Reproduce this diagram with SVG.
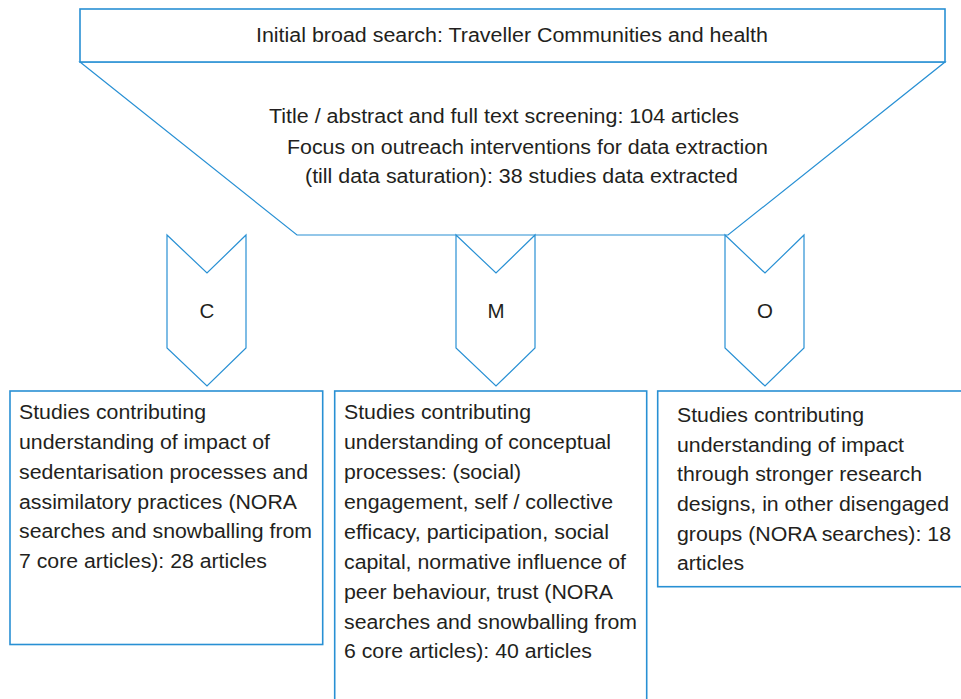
<svg xmlns="http://www.w3.org/2000/svg" width="961" height="699" viewBox="0 0 961 699">
<style>
.box{fill:#fff;stroke:#2890d4;stroke-width:1.6}
.thin{fill:#fff;stroke:#2890d4;stroke-width:1.2}
.t{font-family:"Liberation Sans",Arial,Helvetica,sans-serif;font-size:19.5px;fill:#231f20}
.l{font-family:"Liberation Sans",Arial,Helvetica,sans-serif;font-size:20.5px;fill:#231f20;text-anchor:middle}
</style>
<rect width="961" height="699" fill="#fff"/>
<g id="funnel">
<polygon class="thin" points="80,62 297,235 728,235 945,62"/>
<text class="t" x="269" y="123" textLength="470" lengthAdjust="spacingAndGlyphs">Title / abstract and full text screening: 104 articles</text>
<text class="t" x="287" y="154" textLength="481" lengthAdjust="spacingAndGlyphs">Focus on outreach interventions for data extraction</text>
<text class="t" x="305" y="183" textLength="433" lengthAdjust="spacingAndGlyphs">(till data saturation): 38 studies data extracted</text>
</g>
<g id="top">
<rect class="box" x="80" y="9" width="865" height="53"/>
<text class="t" x="256" y="42" textLength="512" lengthAdjust="spacingAndGlyphs">Initial broad search: Traveller Communities and health</text>
</g>
<g id="connectors">
<g id="chevC">
<polygon class="thin" points="167,235 207,273 246,235 246,348 207,386 167,348"/>
<text class="l" x="207" y="318">C</text>
</g>
<g id="chevM">
<polygon class="thin" points="456,235 496,273 535,235 535,348 496,386 456,348"/>
<text class="l" x="496" y="318">M</text>
</g>
<g id="chevO">
<polygon class="thin" points="725,235 765,273 804,235 804,348 765,386 725,348"/>
<text class="l" x="765" y="318">O</text>
</g>
</g>
<g id="boxC">
<rect class="box" x="10" y="391" width="312.7" height="253.5"/>
<text class="t" x="19" y="419" textLength="187" lengthAdjust="spacingAndGlyphs">Studies contributing</text>
<text class="t" x="19" y="449" textLength="251" lengthAdjust="spacingAndGlyphs">understanding of impact of</text>
<text class="t" x="19" y="479" textLength="289" lengthAdjust="spacingAndGlyphs">sedentarisation processes and</text>
<text class="t" x="19" y="509" textLength="278" lengthAdjust="spacingAndGlyphs">assimilatory practices (NORA</text>
<text class="t" x="19" y="538" textLength="293" lengthAdjust="spacingAndGlyphs">searches and snowballing from</text>
<text class="t" x="19" y="568" textLength="248" lengthAdjust="spacingAndGlyphs">7 core articles): 28 articles</text>
</g>
<g id="boxM">
<rect class="box" x="334.7" y="391" width="312" height="330"/>
<text class="t" x="344" y="419" textLength="187" lengthAdjust="spacingAndGlyphs">Studies contributing</text>
<text class="t" x="344" y="449" textLength="267" lengthAdjust="spacingAndGlyphs">understanding of conceptual</text>
<text class="t" x="344" y="479" textLength="177" lengthAdjust="spacingAndGlyphs">processes: (social)</text>
<text class="t" x="344" y="509" textLength="269" lengthAdjust="spacingAndGlyphs">engagement, self / collective</text>
<text class="t" x="344" y="539" textLength="265" lengthAdjust="spacingAndGlyphs">efficacy, participation, social</text>
<text class="t" x="344" y="569" textLength="282" lengthAdjust="spacingAndGlyphs">capital, normative influence of</text>
<text class="t" x="344" y="599" textLength="269" lengthAdjust="spacingAndGlyphs">peer behaviour, trust (NORA</text>
<text class="t" x="344" y="629" textLength="293" lengthAdjust="spacingAndGlyphs">searches and snowballing from</text>
<text class="t" x="344" y="658" textLength="248" lengthAdjust="spacingAndGlyphs">6 core articles): 40 articles</text>
</g>
<g id="boxO">
<rect class="box" x="657.7" y="391" width="320" height="195.7"/>
<text class="t" x="677" y="422" textLength="187" lengthAdjust="spacingAndGlyphs">Studies contributing</text>
<text class="t" x="677" y="452" textLength="227" lengthAdjust="spacingAndGlyphs">understanding of impact</text>
<text class="t" x="677" y="481" textLength="245" lengthAdjust="spacingAndGlyphs">through stronger research</text>
<text class="t" x="677" y="511" textLength="272" lengthAdjust="spacingAndGlyphs">designs, in other disengaged</text>
<text class="t" x="677" y="541" textLength="274" lengthAdjust="spacingAndGlyphs">groups (NORA searches): 18</text>
<text class="t" x="677" y="570" textLength="67" lengthAdjust="spacingAndGlyphs">articles</text>
</g>
</svg>
